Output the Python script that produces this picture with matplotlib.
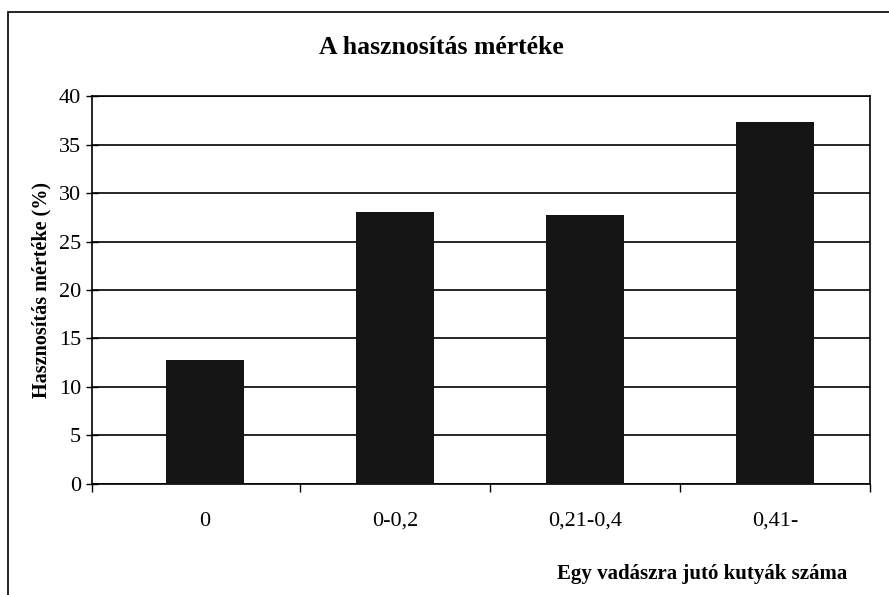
import matplotlib.pyplot as plt
from matplotlib.patches import Rectangle

plt.rcParams['font.family'] = ['Liberation Serif', 'DejaVu Serif']

categories = ['0', '0-0,2', '0,21-0,4', '0,41-']
values = [12.8, 28.0, 27.7, 37.3]
yticks = [0, 5, 10, 15, 20, 25, 30, 35, 40]

fig = plt.figure(figsize=(8.89, 5.95), dpi=100)
ax = fig.add_axes([0.1035, 0.1866, 0.875, 0.652])

x = range(len(categories))
ax.bar(x, values, width=0.41, color='#141414', zorder=3)

left = -0.595
ax.set_xlim(left, len(categories) - 0.5)
ax.set_ylim(0, 40)
ax.set_yticks(yticks)
ax.yaxis.grid(True, color='black', linewidth=1.2, zorder=0)
ax.tick_params(axis='y', direction='inout', length=8, width=1, labelsize=16, pad=4)

# category labels at centers, tick marks between categories
ax.set_xticks(list(x))
ax.set_xticklabels(categories)
ax.tick_params(axis='x', which='major', length=0, labelsize=16, pad=20)
ax.set_xticks([left] + [i + 0.5 for i in range(len(categories))], minor=True)
ax.tick_params(axis='x', which='minor', direction='out', length=6, width=1)

for s in ax.spines.values():
    s.set_linewidth(1.2)
    s.set_color('black')

ax.set_ylabel('Hasznosítás mértéke (%)', fontsize=14.5, fontweight='bold', labelpad=5)
fig.text(0.497, 0.92, 'A hasznosítás mértéke', ha='center', va='center',
         fontsize=18.5, fontweight='bold')
fig.text(0.953, 0.035, 'Egy vadászra jutó kutyák száma', ha='right', va='center',
         fontsize=15, fontweight='bold')

# outer chart frame
fig.patches.append(Rectangle((0.009, -0.1), 1.1, 1.08, transform=fig.transFigure,
                             fill=False, edgecolor='black', linewidth=1.2))

fig.savefig('out.png', dpi=100)
